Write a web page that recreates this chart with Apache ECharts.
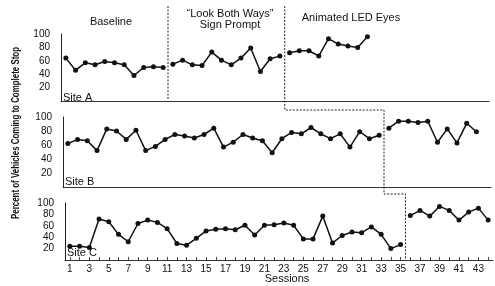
<!DOCTYPE html>
<html>
<head>
<meta charset="utf-8">
<script src="https://cdn.jsdelivr.net/npm/echarts@6/dist/echarts.min.js"></script>
<style>
  html, body { margin: 0; padding: 0; background: #fff; }
  #chart { width: 495px; height: 286px; }
</style>
</head>
<body>
<div id="chart"></div>
<script type="text/javascript">
// sessions 1..44 (shared x categories)
var sessions = ['1','2','3','4','5','6','7','8','9','10','11','12','13','14','15','16','17','18','19','20','21','22',
                '23','24','25','26','27','28','29','30','31','32','33','34','35','36','37','38','39','40','41','42','43','44'];

// Site A: baseline 1-11, sign prompt 12-23, LED eyes 24-32
var siteA_baseline = [64, 46, 57, 54, 59, 57, 54, 38, 50, 51, 50];
var siteA_prompt   = [55, 61, 54, 53, 73, 61, 54, 64, 79, 44, 63, 67];
var siteA_led      = [72, 75, 75, 67, 93, 85, 82, 80, 96];
// Site B: baseline 1-33, LED eyes 34-43
var siteB_baseline = [62, 68, 66, 52, 83, 80, 68, 81, 52, 58, 68, 75, 73, 70, 75, 84, 57, 64, 75, 70,
                      66, 49, 69, 78, 76, 85, 76, 69, 76, 57, 79, 69, 74];
var siteB_led      = [84, 94, 94, 92, 94, 64, 83, 63, 91, 79];
// Site C: baseline 1-35, LED eyes 36-44
var siteC_baseline = [24, 24, 22, 72, 67, 45, 32, 64, 70, 66, 55, 29, 26, 38, 51, 54, 55, 53, 61, 44,
                      61, 62, 65, 61, 37, 37, 77, 30, 43, 49, 48, 58, 45, 20, 27];
var siteC_led      = [78, 87, 77, 94, 87, 70, 84, 91, 70];

// last session before each phase change
var changeA = [11, 23];
var changeB = [33];
var changeC = [35];

var FONT = '"Liberation Sans", Arial, sans-serif';

// put a phase's values onto the 44-session axis
function pad(start, vals) {
    var out = [];
    for (var i = 0; i < sessions.length; i++) out.push(null);
    for (var j = 0; j < vals.length; j++) out[start - 1 + j] = vals[j];
    return out;
}

function lineSeries(idx, data) {
    return {
        type: 'line',
        xAxisIndex: idx,
        yAxisIndex: idx,
        data: data,
        symbol: 'circle',
        symbolSize: 5,
        connectNulls: false,
        itemStyle: { color: '#111' },
        lineStyle: { color: '#111', width: 1.5 },
        animation: false
    };
}

function xAx(idx, showLabels) {
    return {
        type: 'category',
        gridIndex: idx,
        data: sessions,
        boundaryGap: true,
        axisLine: { show: true, lineStyle: { color: '#333', width: 1 } },
        axisTick: { show: showLabels, inside: true, length: 3, interval: 0, alignWithLabel: true,
                    lineStyle: { color: '#444', width: 1 } },
        axisLabel: { show: showLabels, interval: 1, margin: 4, fontSize: 10, color: '#111', fontFamily: FONT },
        splitLine: { show: false }
    };
}

function yAx(idx) {
    return {
        type: 'value',
        gridIndex: idx,
        min: 0,
        max: 100,
        interval: 20,
        axisLine: { show: true, lineStyle: { color: '#222', width: 1 } },
        axisTick: { show: false },
        axisLabel: { showMinLabel: false, margin: 11, fontSize: 10, color: '#111', fontFamily: FONT },
        splitLine: { show: false }
    };
}

var myChart = echarts.init(document.getElementById('chart'), null, { renderer: 'canvas' });

var option = {
    backgroundColor: '#fff',
    animation: false,
    grid: [
        { left: 61, top: 34, width: 428, height: 67 },
        { left: 63, top: 117, width: 428, height: 70 },
        { left: 65, top: 203, width: 428, height: 57 }
    ],
    xAxis: [xAx(0, false), xAx(1, false), xAx(2, true)],
    yAxis: [yAx(0), yAx(1), yAx(2)],
    series: [
        lineSeries(0, pad(1, siteA_baseline)),
        lineSeries(0, pad(12, siteA_prompt)),
        lineSeries(0, pad(24, siteA_led)),
        lineSeries(1, pad(1, siteB_baseline)),
        lineSeries(1, pad(34, siteB_led)),
        lineSeries(2, pad(1, siteC_baseline)),
        lineSeries(2, pad(36, siteC_led))
    ]
};
myChart.setOption(option);

// x pixel between session s and s+1 on a given panel
function between(axisIdx, s) {
    var a = myChart.convertToPixel({ xAxisIndex: axisIdx }, s - 1);
    var b = myChart.convertToPixel({ xAxisIndex: axisIdx }, s);
    return (a + b) / 2;
}

var dash = { stroke: '#222', lineWidth: 1, lineDash: [2, 1.5] };
var x1 = between(0, changeA[0]);
var x2 = between(0, changeA[1]);
var x3 = between(1, changeB[0]);
var x4 = between(2, changeC[0]);

function txt(x, y, s, size, extra) {
    var st = { text: s, x: x, y: y, fill: '#111', font: (size || 11) + 'px ' + FONT,
               align: 'center', verticalAlign: 'middle' };
    if (extra) for (var k in extra) st[k] = extra[k];
    return { type: 'text', silent: true, style: st };
}

myChart.setOption({
    graphic: [
        { type: 'polyline', silent: true, shape: { points: [[x1, 6], [x1, 100]] }, style: dash },
        { type: 'polyline', silent: true,
          shape: { points: [[x2, 6], [x2, 110], [x3, 110], [x3, 194], [x4, 194], [x4, 260]] },
          style: dash },
        txt(111, 22, 'Baseline'),
        txt(230, 14, '\u201cLook Both Ways\u201d'),
        txt(230, 25, 'Sign Prompt'),
        txt(351, 18, 'Animated LED Eyes'),
        txt(63, 98, 'Site A', 11, { align: 'left' }),
        txt(65, 182, 'Site B', 11, { align: 'left' }),
        txt(67, 253, 'Site C', 11, { align: 'left' }),
        txt(287, 279, 'Sessions'),
        {
            type: 'text', silent: true, x: 16, y: 133, rotation: Math.PI / 2, scaleX: 0.72,
            style: { text: 'Percent of Vehicles Coming to Complete Stop', x: 0, y: 0,
                     fill: '#111', font: 'bold 11px "Liberation Sans", Arial, sans-serif',
                     align: 'center', verticalAlign: 'middle' }
        }
    ]
});
</script>
</body>
</html>
